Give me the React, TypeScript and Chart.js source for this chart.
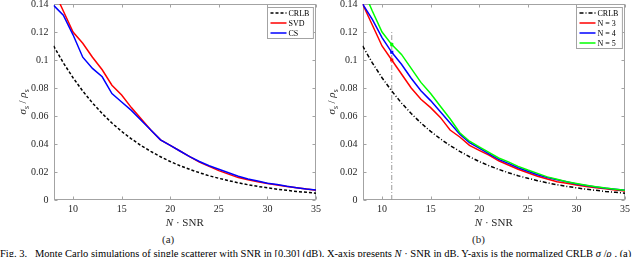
import React, { useEffect, useRef } from 'react';
import { Chart, registerables } from 'chart.js';

Chart.register(...registerables);

// ---------- data ----------
const snr = [8, 9, 10, 11, 12, 13, 14, 15, 16, 17, 18, 19, 20, 21, 22, 23, 24, 25, 26, 27, 28, 29, 30, 31, 32, 33, 34, 35];

const crlb = [0.110, 0.098, 0.0873, 0.0778, 0.0693, 0.0618, 0.0550, 0.0490, 0.0437, 0.0389, 0.0347, 0.0309, 0.0275, 0.0245, 0.0219, 0.0195, 0.0173, 0.0155, 0.0138, 0.0123, 0.0109, 0.0097, 0.0087, 0.0077, 0.0069, 0.0061, 0.0055, 0.0049];

const svdA = [0.150, 0.135, 0.120, 0.112, 0.102, 0.093, 0.082, 0.075, 0.066, 0.058, 0.050, 0.043, 0.039, 0.035, 0.031, 0.027, 0.024, 0.021, 0.0185, 0.016, 0.0145, 0.013, 0.0118, 0.0107, 0.0097, 0.0087, 0.0078, 0.0070];

const csA = [0.139, 0.132, 0.118, 0.102, 0.094, 0.088, 0.076, 0.070, 0.064, 0.057, 0.050, 0.043, 0.039, 0.035, 0.031, 0.0275, 0.0245, 0.022, 0.0195, 0.017, 0.015, 0.0135, 0.012, 0.011, 0.0098, 0.0088, 0.0078, 0.0071];

const n3 = [0.140, 0.125, 0.110, 0.100, 0.090, 0.080, 0.072, 0.066, 0.059, 0.050, 0.045, 0.039, 0.0355, 0.032, 0.028, 0.025, 0.022, 0.0195, 0.017, 0.015, 0.013, 0.012, 0.0107, 0.0097, 0.0088, 0.008, 0.0072, 0.0065];

const n4 = [0.140, 0.129, 0.116, 0.1055, 0.097, 0.087, 0.078, 0.071, 0.063, 0.055, 0.047, 0.041, 0.037, 0.033, 0.029, 0.0262, 0.023, 0.0205, 0.018, 0.016, 0.0145, 0.013, 0.0115, 0.0104, 0.0093, 0.0084, 0.0076, 0.0069];

const n5 = [0.151, 0.135, 0.120, 0.111, 0.104, 0.094, 0.084, 0.076, 0.067, 0.058, 0.048, 0.042, 0.038, 0.034, 0.030, 0.0272, 0.024, 0.0214, 0.019, 0.0165, 0.0148, 0.013, 0.0118, 0.0106, 0.0095, 0.0085, 0.0077, 0.0070];

const markerX = 11;
const markerY = [0.100, 0.1055, 0.111]; // N = 3, 4, 5 at the marked SNR
const markerLineY = [0, 0.121];

const xTicks = [10, 15, 20, 25, 30, 35];
const yTicks = [0, 0.02, 0.04, 0.06, 0.08, 0.1, 0.12, 0.14];
const yTickLabels = ['0', '0.02', '0.04', '0.06', '0.08', '0.1', '0.12', '0.14'];

// ---------- style ----------
const SERIF = '"Liberation Serif", "Times New Roman", serif';
const AXIS_COLOR = '#a3a3a3';
const TEXT_COLOR = '#262626';
const RED = '#ff0000';
const BLUE = '#0000ff';
const GREEN = '#00ff00';

const pts = (ys: number[]) => snr.map((x, i) => ({ x, y: ys[i] }));

const framePlugin = {
  id: 'frame',
  beforeDatasetsDraw(chart: any) {
    const { ctx, chartArea: a, scales } = chart;
    ctx.save();
    ctx.strokeStyle = AXIS_COLOR;
    ctx.lineWidth = 1;
    const L = Math.round(a.left) + 0.5;
    const R = Math.round(a.right) - 0.5;
    const T = Math.round(a.top) + 0.5;
    const B = Math.round(a.bottom) - 0.5;
    ctx.strokeRect(L, T, R - L, B - T);
    ctx.beginPath();
    scales.x.ticks.forEach((t: any) => {
      const px = Math.round(scales.x.getPixelForValue(t.value)) + 0.5;
      ctx.moveTo(px, B); ctx.lineTo(px, B - 3);
      ctx.moveTo(px, T); ctx.lineTo(px, T + 3);
    });
    scales.y.ticks.forEach((t: any) => {
      const py = Math.round(scales.y.getPixelForValue(t.value)) + 0.5;
      ctx.moveTo(L, py); ctx.lineTo(L + 3, py);
      ctx.moveTo(R, py); ctx.lineTo(R - 3, py);
    });
    ctx.stroke();
    ctx.restore();
  },
  afterDraw(chart: any) {
    const { ctx, chartArea: a } = chart;
    ctx.save();
    ctx.fillStyle = TEXT_COLOR;
    // x title: N · SNR
    const xParts = [
      { t: 'N', f: `italic 11px ${SERIF}` },
      { t: ' \u00b7 SNR', f: `11px ${SERIF}` },
    ];
    let tw = 0;
    xParts.forEach((p) => { ctx.font = p.f; tw += ctx.measureText(p.t).width; });
    let xx = (a.left + a.right) / 2 - tw / 2;
    ctx.textBaseline = 'alphabetic';
    ctx.textAlign = 'left';
    xParts.forEach((p) => { ctx.font = p.f; ctx.fillText(p.t, xx, a.bottom + 25.5); xx += ctx.measureText(p.t).width; });

    // y title: σs / ρs
    const yParts = [
      { t: '\u03c3', f: `italic 11px ${SERIF}`, dy: 0 },
      { t: 's', f: `7.5px ${SERIF}`, dy: 3 },
      { t: ' / ', f: `11px ${SERIF}`, dy: 0 },
      { t: '\u03c1', f: `italic 11px ${SERIF}`, dy: 0 },
      { t: 's', f: `7.5px ${SERIF}`, dy: 3 },
    ];
    ctx.translate(a.left - 31.5, (a.top + a.bottom) / 2);
    ctx.rotate(-Math.PI / 2);
    let yw = 0;
    yParts.forEach((p) => { ctx.font = p.f; yw += ctx.measureText(p.t).width; });
    let yx = -yw / 2;
    yParts.forEach((p) => { ctx.font = p.f; ctx.fillText(p.t, yx, 4 + p.dy); yx += ctx.measureText(p.t).width; });
    ctx.restore();

    // legend box inside top-right
    const items = chart.data.datasets.filter((d: any) => d.label);
    ctx.save();
    ctx.font = `8px ${SERIF}`;
    const textW = Math.max(...items.map((d: any) => ctx.measureText(d.label).width));
    const rowH = 10;
    const sample = 16;
    const w = 3 + sample + 2 + textW + 4;
    const h = items.length * rowH + 1;
    const x0 = Math.round(a.right - 3 - w) + 0.5;
    const y0 = Math.round(a.top + 3) + 0.5;
    ctx.fillStyle = '#ffffff';
    ctx.fillRect(x0, y0, w, h);
    ctx.strokeStyle = AXIS_COLOR;
    ctx.lineWidth = 1;
    ctx.strokeRect(x0, y0, w, h);
    items.forEach((d: any, i: number) => {
      const cy = y0 + 0.5 + rowH * (i + 0.5);
      ctx.strokeStyle = d.borderColor;
      ctx.lineWidth = d.borderWidth;
      ctx.setLineDash(d.borderDash || []);
      ctx.beginPath();
      ctx.moveTo(x0 + 3, cy);
      ctx.lineTo(x0 + 3 + sample, cy);
      ctx.stroke();
      ctx.setLineDash([]);
      ctx.fillStyle = '#000000';
      ctx.textBaseline = 'middle';
      ctx.textAlign = 'left';
      ctx.fillText(d.label, x0 + 3 + sample + 2, cy + 0.5);
    });
    ctx.restore();
  },
};

function makeConfig(datasets: any[], yAxisWidth: number, rightPad: number): any {
  return {
    type: 'line',
    data: { datasets },
    options: {
      animation: false,
      responsive: false,
      maintainAspectRatio: false,
      layout: { padding: { top: 4, right: rightPad, left: 0, bottom: 0 } },
      plugins: { legend: { display: false }, tooltip: { enabled: false } },
      elements: { point: { radius: 0 }, line: { tension: 0 } },
      scales: {
        x: {
          type: 'linear',
          min: 8,
          max: 35,
          grid: { display: false, drawTicks: false },
          border: { display: false },
          afterBuildTicks: (s: any) => { s.ticks = xTicks.map((v) => ({ value: v })); },
          ticks: {
            padding: 3,
            color: TEXT_COLOR,
            font: { family: SERIF, size: 10 },
            maxRotation: 0,
            autoSkip: false,
            callback: (v: any) => String(v),
          },
          afterFit: (s: any) => { s.height = 32; s.paddingLeft = 0; s.paddingRight = 0; },
        },
        y: {
          type: 'linear',
          min: 0,
          max: 0.14,
          grid: { display: false, drawTicks: false },
          border: { display: false },
          afterBuildTicks: (s: any) => { s.ticks = yTicks.map((v) => ({ value: v })); },
          ticks: {
            padding: 5,
            color: TEXT_COLOR,
            font: { family: SERIF, size: 10 },
            autoSkip: false,
            callback: (v: any, i: number) => yTickLabels[i],
          },
          afterFit: (s: any) => { s.width = yAxisWidth; s.paddingTop = 0; s.paddingBottom = 0; },
        },
      },
    },
    plugins: [framePlugin],
  };
}

const leftDatasets = () => [
  { label: 'CRLB', data: pts(crlb), borderColor: '#000000', borderWidth: 1.5, borderDash: [3, 2], order: 3 },
  { label: 'SVD', data: pts(svdA), borderColor: RED, borderWidth: 1.5, order: 2 },
  { label: 'CS', data: pts(csA), borderColor: BLUE, borderWidth: 1.5, order: 1 },
];

const rightDatasets = () => [
  { label: 'CRLB', data: pts(crlb), borderColor: '#000000', borderWidth: 1.5, borderDash: [4, 2, 1, 2], order: 4 },
  { label: 'N = 3', data: pts(n3), borderColor: RED, borderWidth: 1.5, order: 3 },
  { label: 'N = 4', data: pts(n4), borderColor: BLUE, borderWidth: 1.5, order: 2 },
  { label: 'N = 5', data: pts(n5), borderColor: GREEN, borderWidth: 1.5, order: 1 },
  {
    label: '',
    data: markerLineY.map((y) => ({ x: markerX, y })),
    borderColor: '#9a9a9a',
    borderWidth: 1,
    borderDash: [5, 2, 1, 2],
    order: 5,
  },
  {
    label: '',
    data: markerY.map((y) => ({ x: markerX, y })),
    showLine: false,
    pointRadius: 2.2,
    pointStyle: 'rect',
    pointBackgroundColor: [RED, BLUE, GREEN],
    pointBorderColor: [RED, BLUE, GREEN],
    borderColor: RED,
    borderWidth: 0,
    order: 0,
  },
];

function ChartCanvas({ width, height, build }: { width: number; height: number; build: () => any }) {
  const ref = useRef<HTMLCanvasElement | null>(null);
  useEffect(() => {
    let chart: any = null;
    let cancelled = false;
    const make = () => {
      if (cancelled || !ref.current) return;
      chart = new Chart(ref.current, build());
    };
    const fonts: any = (document as any).fonts;
    if (fonts && fonts.load) {
      Promise.all([
        fonts.load(`10px "Liberation Serif"`),
        fonts.load(`italic 11px "Liberation Serif"`),
      ]).then(make, make);
    } else {
      make();
    }
    return () => {
      cancelled = true;
      if (chart) chart.destroy();
    };
  }, []);
  return <canvas ref={ref} width={width} height={height} style={{ display: 'block', width, height }} />;
}

export default function App() {
  return (
    <div
      style={{
        position: 'absolute',
        left: 0,
        top: 0,
        width: 640,
        height: 257,
        overflow: 'hidden',
        background: '#ffffff',
        fontFamily: SERIF,
        color: '#000',
      }}
    >
      <div style={{ position: 'absolute', left: 0, top: 0 }}>
        <ChartCanvas width={335} height={232} build={() => makeConfig(leftDatasets(), 53.6, 19)} />
      </div>
      <div style={{ position: 'absolute', left: 300, top: 0 }}>
        <ChartCanvas width={340} height={232} build={() => makeConfig(rightDatasets(), 62.6, 15)} />
      </div>
      <div style={{ position: 'absolute', left: 162, top: 233, fontSize: 11, lineHeight: '13px', color: TEXT_COLOR }}>(a)</div>
      <div style={{ position: 'absolute', left: 472, top: 233, fontSize: 11, lineHeight: '13px', color: TEXT_COLOR }}>(b)</div>
      <div
        style={{
          position: 'absolute',
          left: 0,
          top: 247,
          fontSize: 10.5,
          lineHeight: '13px',
          whiteSpace: 'nowrap',
        }}
      >
        Fig. 3.&nbsp;&nbsp; Monte Carlo simulations of single scatterer with SNR in [0,30] (dB). X-axis presents <i>N</i> · SNR in dB. Y-axis is the normalized CRLB <i>σ</i><sub style={{ fontSize: 7 }}>s</sub>/<i>ρ</i><sub style={{ fontSize: 7 }}>s</sub>. (a)
      </div>
    </div>
  );
}
